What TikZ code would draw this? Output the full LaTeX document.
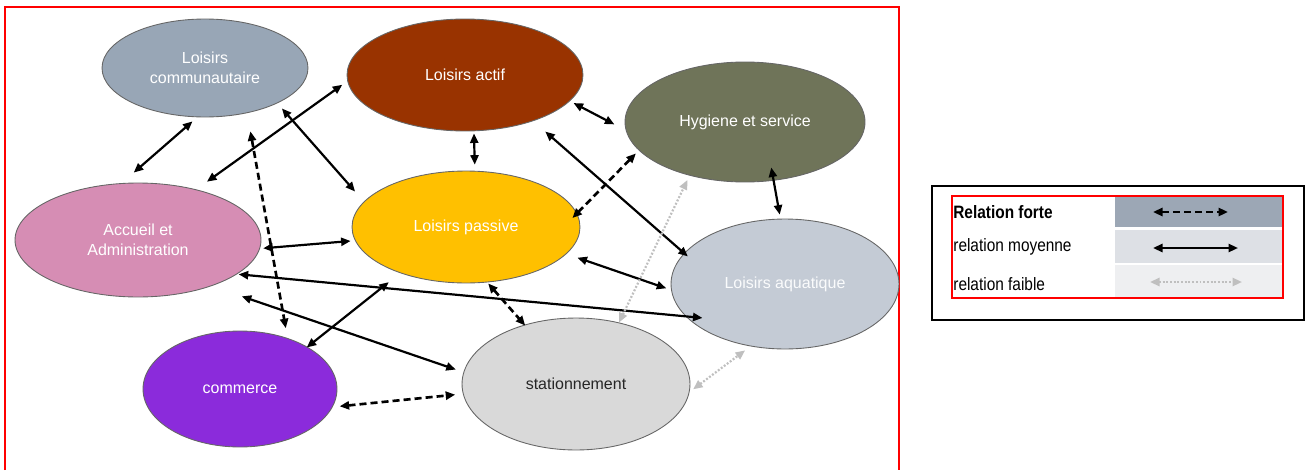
\documentclass[tikz,border=0pt]{standalone}
\usepackage{fontspec}
\setmainfont{Liberation Sans}
\newfontfamily\legfont[FakeStretch=0.86]{Liberation Sans}
\usepackage{tikz}
\usetikzlibrary{arrows.meta, shapes.geometric}

\definecolor{commcol}{HTML}{98A6B6}
\definecolor{actifcol}{HTML}{993300}
\definecolor{hygcol}{HTML}{6F7459}
\definecolor{acccol}{HTML}{D68DB4}
\definecolor{pascol}{HTML}{FFC000}
\definecolor{aquacol}{HTML}{C4CBD5}
\definecolor{comcol}{HTML}{8B2BDB}
\definecolor{stacol}{HTML}{D9D9D9}
\definecolor{faiblecol}{HTML}{BFBFBF}
\definecolor{rowforte}{HTML}{9CA7B5}
\definecolor{rowmoy}{HTML}{DDE0E5}
\definecolor{rowfaible}{HTML}{EEEFF1}

\begin{document}
\begin{tikzpicture}[x=0.02cm, y=-0.02cm,
        zone/.style={ellipse, draw=black!60, line width=0.5pt, inner sep=0pt,
            text=white, align=center, font=\fontsize{9.1}{11.3}\selectfont},
        moyenne/.style={line width=1.25pt,
            {Triangle[length=5.4pt,width=4.6pt]}-{Triangle[length=5.4pt,width=4.6pt]}},
        forte/.style={moyenne, line width=1.5pt, dash pattern=on 4pt off 2.3pt},
        faible/.style={moyenne, faiblecol, dash pattern=on 1.1pt off 1pt},
        legcell/.style={rectangle, inner sep=0pt, minimum width=3.34cm},
        leglabel/.style={anchor=west, inner sep=0pt, font=\legfont\fontsize{10.2}{12}\selectfont}]
    \useasboundingbox (0,0) rectangle (1310,470);
    \draw[red, line width=0.6pt] (5,470) |- (899,7) -- (899,470);

    % zones
    \node[zone, fill=commcol, minimum width=4.12cm, minimum height=1.96cm] (comm) at (205,68) {Loisirs\\communautaire};
    \node[zone, fill=actifcol, minimum width=4.72cm, minimum height=2.24cm] (actif) at (465,75) {Loisirs actif};
    \node[zone, fill=hygcol, minimum width=4.8cm, minimum height=2.4cm] (hyg) at (745,122) {Hygiene et service};
    \node[zone, fill=acccol, minimum width=4.92cm, minimum height=2.28cm] (acc) at (138,240) {Accueil et\\Administration};
    \node[zone, fill=pascol, minimum width=4.56cm, minimum height=2.24cm] (pas) at (466,227) {Loisirs passive};
    \node[zone, fill=aquacol, text=white!92!aquacol, minimum width=4.56cm, minimum height=2.6cm] (aqua) at (785,284) {Loisirs aquatique};
    \node[zone, fill=comcol, minimum width=3.88cm, minimum height=2.32cm] (com) at (240,389) {commerce};
    \node[zone, fill=stacol, text=black!85, minimum width=4.56cm, minimum height=2.64cm] (sta) at (576,384) {stationnement};

    % relations
    \draw[moyenne, shorten <=1.26mm, shorten >=3.2mm] (comm.261.6) -- (acc.106.9);
    \draw[moyenne, shorten <=2.64mm, shorten >=1.24mm] (acc.41.4) -- (actif.183.6);
    \draw[moyenne, shorten <=1.38mm, shorten >=2.68mm] (comm.334.4) -- (pas.166.3);
    \draw[forte, shorten <=3.7mm, shorten >=2mm] (comm.313) -- (com.47.5);
    \draw[moyenne, shorten <=0.44mm, shorten >=1.22mm] (actif.279.2) -- (pas.81.9);
    \draw[moyenne, shorten <=0.82mm, shorten >=2.56mm] (actif.346) -- (hyg.184.3);
    \draw[forte, shorten <=0.84mm, shorten >=-1.3mm] (hyg.195.4) -- (pas.7);
    \draw[moyenne, shorten <=3.18mm, shorten >=-1mm] (actif.326.7) -- (aqua.163.9);
    \draw[moyenne, shorten <=2.32mm, shorten >=1.02mm] (pas.345.6) -- (aqua.183.9);
    \draw[moyenne, shorten <=-2.68mm, shorten >=0.82mm] (hyg.296.4) -- (aqua.94.8);
    \draw[moyenne, shorten <=0.64mm, shorten >=0.88mm] (acc.356.1) -- (pas.187.1);
    \draw[moyenne, shorten <=0.3mm, shorten >=-3.4mm] (acc.341.9) -- (aqua.198.1);
    \draw[moyenne, shorten <=6.36mm, shorten >=1.62mm] (acc.328.3) -- (sta.174.2);
    \draw[moyenne, shorten <=2.9mm, shorten >=-0.2mm] (pas.215.6) -- (com.32.9);
    \draw[forte, shorten <=0.28mm, shorten >=-0.22mm] (pas.291.9) -- (sta.131.3);
    \draw[forte, shorten <=1.4mm, shorten >=1.54mm] (com.349.9) -- (sta.185.8);
    \draw[faible, shorten >=0.98mm] (sta.55.5) -- (hyg.224.9);
    \draw[faible, shorten <=0.88mm, shorten >=1.34mm] (sta.356.7) -- (aqua.241.6);

    % legende
    \draw[line width=0.7pt] (932,186) rectangle (1304,320);
    \node[legcell, fill=rowforte, minimum height=0.6cm] (cforte) at (1198.5,212) {};
    \node[legcell, fill=rowmoy, minimum height=0.66cm] (cmoy) at (1198.5,246.5) {};
    \node[legcell, fill=rowfaible, minimum height=0.64cm] (cfaible) at (1198.5,281) {};
    \draw[red, line width=0.6pt] (952,196) rectangle (1283,298);
    \node[leglabel] (lforte) at (953,212) {\bfseries Relation forte};
    \node[leglabel] (lmoy) at (953,247) {relation moyenne};
    \node[leglabel] (lfaible) at (953,284) {relation faible};
    \coordinate (fa) at (1153,212); \coordinate (fb) at (1228,212);
    \coordinate (ma) at (1153,248); \coordinate (mb) at (1238,248);
    \coordinate (ta) at (1150,282); \coordinate (tb) at (1242,282);
    \draw[forte] (fa) -- (fb);
    \draw[moyenne] (ma) -- (mb);
    \draw[faible] (ta) -- (tb);
\end{tikzpicture}
\end{document}
